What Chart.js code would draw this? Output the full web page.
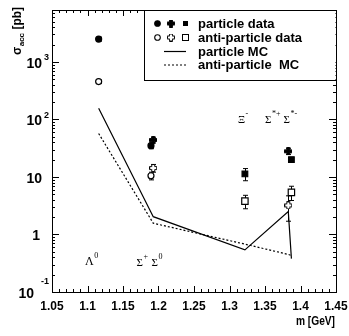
<!DOCTYPE html>
<html><head><meta charset="utf-8">
<script src="https://cdn.jsdelivr.net/npm/chart.js@4.4.1/dist/chart.umd.min.js"></script>
<style>html,body{margin:0;padding:0;background:#fff;}</style>
</head><body>
<canvas id="c" width="349" height="336"></canvas>
<script>
// ---- axis ranges & ticks ----
const xMin = 1.05, xMax = 1.45, yMin = 0.1, yMax = 8000;
const xTicks = [1.05, 1.1, 1.15, 1.2, 1.25, 1.3, 1.35, 1.4, 1.45];
const xTickLabels = ['1.05', '1.1', '1.15', '1.2', '1.25', '1.3', '1.35', '1.4', '1.45'];
const yTicks = [0.1, 1, 10, 100, 1000];
const yTickBase = ['10', '1', '10', '10', '10'];
const yTickExp = ['-1', '', '', '2', '3'];

// ---- particle data (filled markers) ----
const pCircleX = [1.1157, 1.1894];
const pCircleY = [2500, 35];
const pCircleErr = [200, 4];
const pPlusX = [1.1926, 1.3828];
const pPlusY = [44, 28];
const pPlusErr = [5, 3.5];
const pSquareX = [1.3217, 1.3872];
const pSquareY = [11.3, 20];
const pSquareErr = [2.7, 2];

// ---- anti-particle data (open markers) ----
const aCircleX = [1.1157, 1.1894];
const aCircleY = [455, 10.5];
const aCircleErr = [30, 1.6];
const aPlusX = [1.1926, 1.3828];
const aPlusY = [14.3, 3.2];
const aPlusErr = [2.2, 1.5];
const aSquareX = [1.3217, 1.3872];
const aSquareY = [3.8, 5.4];
const aSquareErr = [1.0, 1.5];

// ---- MC curves ----
const mcX = [1.1157, 1.1926, 1.3217, 1.3828, 1.3872];
const mcParticle = [157, 2.04, 0.54, 2.5, 0.38];
const mcAnti = [57, 1.57, 0.68, 0.45, 0.43];

// ---- texts ----
const legendLabels = ['particle data', 'anti-particle data', 'particle MC', 'anti-particle  MC'];
const regionLabels = [['Λ', '0'], ['Σ', '+'], ['Σ', '0'], ['Ξ', '-'], ['Σ', '*+'], ['Σ', '*-']];
const yTitle = ['σ', 'acc', ' [pb]'];
const xTitle = 'm [GeV]';

const SANS = "'Liberation Sans', Arial, Helvetica, sans-serif";
const SERIF = "'Liberation Serif', 'Times New Roman', serif";

function pts(xs, ys) { return xs.map((x, i) => ({ x: x, y: ys[i] })); }

function plusCanvas(filled) {
  const s = 8, c = document.createElement('canvas');
  c.width = s; c.height = s;
  const g = c.getContext('2d');
  const p = [[2.5,0.5],[5.5,0.5],[5.5,2.5],[7.5,2.5],[7.5,5.5],[5.5,5.5],[5.5,7.5],[2.5,7.5],[2.5,5.5],[0.5,5.5],[0.5,2.5],[2.5,2.5]];
  g.beginPath();
  p.forEach((q, i) => i ? g.lineTo(q[0], q[1]) : g.moveTo(q[0], q[1]));
  g.closePath();
  g.fillStyle = filled ? '#000' : '#fff';
  g.fill();
  g.lineWidth = 1; g.strokeStyle = '#000'; g.stroke();
  return c;
}
const plusFilled = plusCanvas(true);
const plusOpen = plusCanvas(false);

function markerDS(xs, ys, errs, style, filled, radius) {
  return {
    type: 'scatter', data: pts(xs, ys), errorValues: errs,
    showLine: false, pointStyle: style, pointRadius: radius, pointHoverRadius: radius,
    backgroundColor: filled ? '#000' : '#fff', borderColor: '#000', borderWidth: 1.2
  };
}

function txt(ctx, s, x, y, font, align, baseline, sx) {
  ctx.save();
  ctx.font = font; ctx.fillStyle = '#000';
  ctx.textAlign = align || 'left'; ctx.textBaseline = baseline || 'alphabetic';
  ctx.translate(x, y); ctx.scale(sx || 1, 1);
  ctx.fillText(s, 0, 0);
  ctx.restore();
}

const errorBarPlugin = {
  id: 'errorBars',
  beforeDatasetsDraw(chart) {
    const ctx = chart.ctx, xs = chart.scales.x, ys = chart.scales.y;
    ctx.save();
    ctx.strokeStyle = '#000'; ctx.lineWidth = 1;
    chart.data.datasets.forEach(ds => {
      if (!ds.errorValues) return;
      ds.data.forEach((p, i) => {
        const e = ds.errorValues[i];
        const px = Math.round(xs.getPixelForValue(p.x)) + 0.5;
        const top = ys.getPixelForValue(p.y + e);
        const bot = ys.getPixelForValue(Math.max(p.y - e, yMin));
        ctx.beginPath();
        ctx.moveTo(px, top); ctx.lineTo(px, bot);
        ctx.moveTo(px - 2.5, top); ctx.lineTo(px + 2.5, top);
        ctx.moveTo(px - 2.5, bot); ctx.lineTo(px + 2.5, bot);
        ctx.stroke();
      });
    });
    ctx.restore();
  }
};

const framePlugin = {
  id: 'frame',
  afterDraw(chart) {
    const ctx = chart.ctx, a = chart.chartArea, xs = chart.scales.x, ys = chart.scales.y;
    ctx.save();
    ctx.strokeStyle = '#000'; ctx.lineWidth = 1;
    // frame
    ctx.strokeRect(a.left + 0.5, a.top + 0.5, a.right - a.left, a.bottom - a.top);
    // x ticks (bottom & top), inward
    ctx.beginPath();
    for (let i = 0; i <= 40; i++) {
      const v = xMin + i * 0.01;
      const len = (i % 5 === 0) ? 6 : 3;
      const px = Math.round(xs.getPixelForValue(v)) + 0.5;
      ctx.moveTo(px, a.bottom); ctx.lineTo(px, a.bottom - len);
      ctx.moveTo(px, a.top); ctx.lineTo(px, a.top + len);
    }
    // y ticks (left & right), inward
    for (let d = -1; d <= 3; d++) {
      for (let m = 1; m <= 9; m++) {
        const v = m * Math.pow(10, d);
        if (v > yMax) continue;
        const len = m === 1 ? 7 : 3;
        const py = Math.round(ys.getPixelForValue(v)) + 0.5;
        ctx.moveTo(a.left, py); ctx.lineTo(a.left + len, py);
        ctx.moveTo(a.right, py); ctx.lineTo(a.right - len, py);
      }
    }
    ctx.stroke();

    // x tick labels
    xTicks.forEach((v, i) => {
      txt(ctx, xTickLabels[i], xs.getPixelForValue(v), a.bottom + 14, 'bold 13px ' + SANS, 'center', 'middle', 0.92);
    });
    // y tick labels
    yTicks.forEach((v, i) => {
      const py = ys.getPixelForValue(v);
      const exp = yTickExp[i];
      let right = 42;
      if (exp.length > 1) right = 34;
      if (!exp && yTickBase[i].length === 1) right = 40;
      txt(ctx, yTickBase[i], right, py + 2, 'bold 14px ' + SANS, 'right', 'middle', 1);
      if (exp) {
        const sx = exp.length > 1 ? right + 7 : right + 2;
        const sy = exp.length > 1 ? py - 10 : py - 4;
        txt(ctx, exp, sx, sy, 'bold 9px ' + SANS, 'left', 'middle', 1);
      }
    });
    // axis titles
    txt(ctx, xTitle, 335, 322, 'bold 12px ' + SANS, 'right', 'middle', 0.85);
    ctx.save();
    ctx.translate(21, 55); ctx.rotate(-Math.PI / 2);
    ctx.fillStyle = '#000'; ctx.textBaseline = 'alphabetic'; ctx.textAlign = 'left';
    ctx.font = 'bold 12px ' + SANS;
    ctx.fillText(yTitle[0], 0, 0);
    let w = ctx.measureText(yTitle[0]).width;
    ctx.font = 'bold 8px ' + SANS;
    ctx.fillText(yTitle[1], w + 0.5, 3);
    w += ctx.measureText(yTitle[1]).width + 0.5;
    ctx.font = 'bold 12px ' + SANS;
    ctx.fillText(yTitle[2], w, 0);
    ctx.restore();

    // region labels
    const pos = [[85, 265, 12], [136.5, 266, 11], [151.5, 266, 11], [238, 123, 11], [265, 123, 11], [283.5, 123, 11]];
    regionLabels.forEach((lab, i) => {
      const p = pos[i];
      ctx.font = p[2] + 'px ' + SERIF;
      const w0 = ctx.measureText(lab[0]).width;
      txt(ctx, lab[0], p[0], p[1], p[2] + 'px ' + SERIF, 'left', 'alphabetic', 1);
      txt(ctx, lab[1], p[0] + w0 + 0.5, p[1] - 7, '8px ' + SERIF, 'left', 'alphabetic', 1);
    });

    // legend box
    const lx = 144, ly = a.top, lr = a.right, lb = 80;
    ctx.fillStyle = '#fff';
    ctx.fillRect(lx + 0.5, ly + 1, lr - lx - 1, lb - ly - 1);
    ctx.strokeStyle = '#000'; ctx.lineWidth = 1;
    ctx.strokeRect(lx + 0.5, ly + 0.5, lr - lx, lb - ly);
    const rows = [23.5, 37.5, 51.5, 65];
    ctx.lineWidth = 1.1;
    ctx.fillStyle = '#000'; ctx.strokeStyle = '#000';
    ctx.beginPath(); ctx.arc(157.5, rows[0], 2.8, 0, Math.PI * 2); ctx.fill(); ctx.stroke();
    ctx.drawImage(plusFilled, 171 - 4, rows[0] - 4);
    ctx.fillRect(183, rows[0] - 2.5, 5, 5);
    ctx.fillStyle = '#fff';
    ctx.beginPath(); ctx.arc(157.5, rows[1], 2.8, 0, Math.PI * 2); ctx.fill(); ctx.stroke();
    ctx.drawImage(plusOpen, 171 - 4, rows[1] - 4);
    ctx.lineWidth = 1;
    ctx.fillRect(182.5, rows[1] - 3, 6, 6); ctx.strokeRect(182.5, rows[1] - 3, 6, 6);
    ctx.lineWidth = 1.2;
    ctx.beginPath(); ctx.moveTo(164, rows[2]); ctx.lineTo(186, rows[2]); ctx.stroke();
    ctx.setLineDash([2, 2]);
    ctx.beginPath(); ctx.moveTo(164, rows[3]); ctx.lineTo(186, rows[3]); ctx.stroke();
    ctx.setLineDash([]);
    legendLabels.forEach((s, i) => txt(ctx, s, 198, rows[i] + 0.5, 'bold 13px ' + SANS, 'left', 'middle', 1));
    ctx.restore();
  }
};

new Chart(document.getElementById('c'), {
  type: 'scatter',
  data: {
    datasets: [
      { type: 'line', data: pts(mcX, mcParticle), borderColor: '#000', borderWidth: 1.2, pointRadius: 0, fill: false, tension: 0 },
      { type: 'line', data: pts(mcX, mcAnti), borderColor: '#000', borderWidth: 1.2, borderDash: [2, 2], pointRadius: 0, fill: false, tension: 0 },
      markerDS(pCircleX, pCircleY, pCircleErr, 'circle', true, 3),
      markerDS(pPlusX, pPlusY, pPlusErr, plusFilled, true, 4),
      markerDS(pSquareX, pSquareY, pSquareErr, 'rect', true, 4),
      markerDS(aCircleX, aCircleY, aCircleErr, 'circle', false, 3),
      markerDS(aPlusX, aPlusY, aPlusErr, plusOpen, false, 4),
      markerDS(aSquareX, aSquareY, aSquareErr, 'rect', false, 4.5)
    ]
  },
  options: {
    responsive: false, animation: false,
    layout: { padding: { left: 52, right: 13, top: 10, bottom: 44 } },
    plugins: { legend: { display: false }, tooltip: { enabled: false } },
    scales: {
      x: { type: 'linear', min: xMin, max: xMax, display: false },
      y: { type: 'logarithmic', min: yMin, max: yMax, display: false }
    }
  },
  plugins: [errorBarPlugin, framePlugin]
});
</script>
</body></html>
